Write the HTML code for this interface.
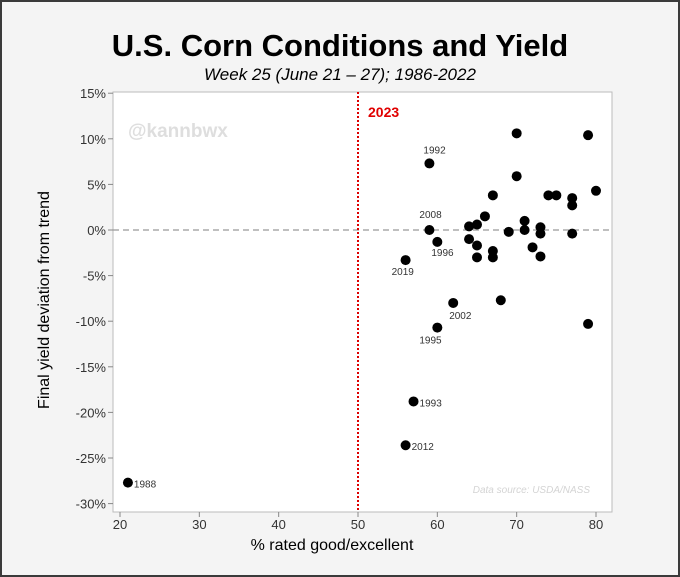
<!DOCTYPE html>
<html><head><meta charset="utf-8"><style>
html,body{margin:0;padding:0;background:#fff}
svg{display:block;font-family:"Liberation Sans",sans-serif}
</style></head><body>
<svg id="chart" width="680" height="577" viewBox="0 0 680 577">
<rect x="0" y="0" width="680" height="577" fill="#3a3a3a"/>
<rect x="2" y="2" width="676" height="573" fill="#f4f4f4"/>
<text x="340" y="56" text-anchor="middle" font-size="31" font-weight="bold" fill="#000">U.S. Corn Conditions and Yield</text>
<text x="340" y="80" text-anchor="middle" font-size="17" font-style="italic" fill="#000">Week 25 (June 21 – 27); 1986-2022</text>
<rect x="113" y="92" width="499" height="420" fill="#fff" stroke="#bbb" stroke-width="1"/>
<text x="128" y="137" font-size="19" font-weight="bold" fill="#dedede">@kannbwx</text>
<text x="590" y="493" text-anchor="end" font-size="10" font-style="italic" fill="#d4d4d4">Data source: USDA/NASS</text>
<g id="axes"></g>
<g id="marks"></g>
<text x="332" y="550" text-anchor="middle" font-size="16" fill="#000">% rated good/excellent</text>
<text transform="translate(49,300) rotate(-90)" text-anchor="middle" font-size="16" fill="#000">Final yield deviation from trend</text>
</svg>
<script>
const xTicks=[20,30,40,50,60,70,80];
const yTicks=[15,10,5,0,-5,-10,-15,-20,-25,-30];
const goodExcellent=[59,70,79,70,67,74,75,77,77,80,66,64,65,71,59,69,71,73,73,77,64,60,65,72,67,67,65,73,56,62,68,60,79,57,56,21];
const yieldDev=[7.3,10.6,10.4,5.9,3.8,3.8,3.8,3.5,2.7,4.3,1.5,0.4,0.6,1.0,0,-0.2,0,0.3,-0.4,-0.4,-1.0,-1.3,-1.7,-1.9,-2.3,-3.0,-3.0,-2.9,-3.3,-8.0,-7.7,-10.7,-10.3,-18.8,-23.6,-27.7];
const yearLabels=["1992","","","","","","","","","","","","","","2008","","","","","","","1996","","","","","","","2019","2002","","1995","","1993","2012","1988"];
const line2023=[50];
const ns="http://www.w3.org/2000/svg";
const xs=v=>120+(v-20)*(476/60);
const ys=v=>230-v*9.12;
const axes=document.getElementById('axes'),marks=document.getElementById('marks');
function mk(tag,attrs,parent){const e=document.createElementNS(ns,tag);for(const k in attrs)e.setAttribute(k,attrs[k]);parent.appendChild(e);return e;}
xTicks.forEach(t=>{
  const l=mk('line',{x1:xs(t),x2:xs(t),y1:512,y2:517,stroke:'#888'},axes);
  
  
  const tx=mk('text',{x:xs(t),y:529,'text-anchor':'middle','font-size':13,fill:'#333'},axes);
  tx.textContent=t;
  
  
});
yTicks.forEach(t=>{
  const l=mk('line',{x1:108,x2:113,y1:ys(t),y2:ys(t),stroke:'#888'},axes);
  
  
  const tx=mk('text',{x:106,y:ys(t)+5,'text-anchor':'end','font-size':13,fill:'#333'},axes);
  tx.textContent=t+'%';
  
  
});
const zl=mk('line',{x1:113,x2:612,y1:ys(0),y2:ys(0),stroke:'#999','stroke-dasharray':'6,4','stroke-width':1.2},axes);


line2023.forEach(v=>{
  const l=mk('line',{x1:xs(v),x2:xs(v),y1:92,y2:512,stroke:'#d00','stroke-dasharray':'2,2','stroke-width':2},axes);
  
  
  const t=mk('text',{x:xs(v)+10,y:117,'font-size':14,'font-weight':'bold',fill:'#e00000'},axes);
  t.textContent='2023';
  
  
});
const off={"1992":[-6,-10],"2008":[-10,-12],"1996":[-6,14],"2019":[-14,15],"2002":[-4,16],"1995":[-18,16],"1993":[6,5],"2012":[6,5],"1988":[6,5]};
goodExcellent.forEach((x,i)=>{
  const c=mk('circle',{cx:xs(x),cy:ys(yieldDev[i]),r:5,fill:'#000'},marks);
  
  
  const lab=yearLabels[i];
  if(lab){
    const o=off[lab]||[6,5];
    const t=mk('text',{x:xs(x)+o[0],y:ys(yieldDev[i])+o[1],'font-size':10,fill:'#333'},marks);
    t.textContent=lab;
    
    
  }
});
</script>
</body></html>
